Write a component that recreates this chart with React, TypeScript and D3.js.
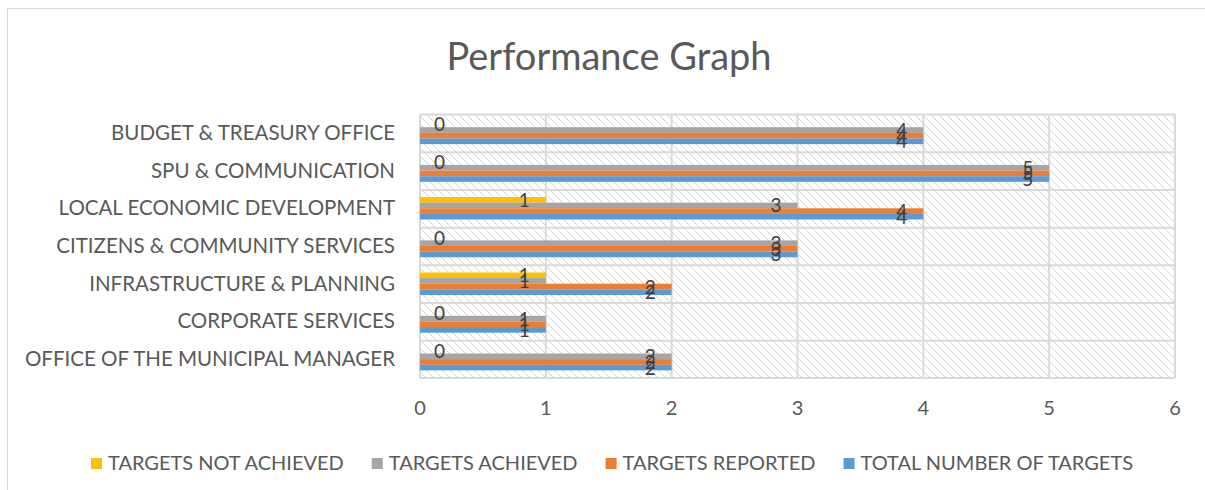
import React, { useEffect, useRef } from 'react'
import * as d3 from 'd3'

// chart data
const categories = [
  'BUDGET & TREASURY OFFICE',
  'SPU & COMMUNICATION',
  'LOCAL ECONOMIC DEVELOPMENT',
  'CITIZENS & COMMUNITY SERVICES',
  'INFRASTRUCTURE & PLANNING',
  'CORPORATE SERVICES',
  'OFFICE OF THE MUNICIPAL MANAGER',
]
const seriesNames = ['TARGETS NOT ACHIEVED', 'TARGETS ACHIEVED', 'TARGETS REPORTED', 'TOTAL NUMBER OF TARGETS']
const notAchieved = [0, 0, 1, 0, 1, 0, 0]
const achieved = [4, 5, 3, 3, 1, 1, 2]
const reported = [4, 5, 4, 3, 2, 1, 2]
const totalTargets = [4, 5, 4, 3, 2, 1, 2]
const xTicks = [0, 1, 2, 3, 4, 5, 6]
const colors = ['#FFC000', '#A5A5A5', '#ED7D31', '#5B9BD5']

const series = [notAchieved, achieved, reported, totalTargets]

const W = 1205
const H = 490
const FONT = 'Lato, "Open Sans", sans-serif'
const TEXT = '#595959'
const GRID = '#D9D9D9'

const plot = { left: 420, right: 1175, top: 114, bottom: 378 }

export default function App() {
  const legendRef = useRef<SVGGElement>(null)

  const x = d3.scaleLinear().domain([0, 6]).range([plot.left, plot.right])
  const y = d3.scaleBand<string>().domain(categories).range([plot.top, plot.bottom]).padding(0)
  const inner = d3
    .scaleBand<number>()
    .domain(d3.range(series.length))
    .range([0, y.bandwidth()])
    .paddingInner(0)
    .paddingOuter(1.35)

  useEffect(() => {
    const g = d3.select(legendRef.current)
    g.selectAll('*').remove()
    const items = g
      .selectAll('g.item')
      .data(seriesNames)
      .join('g')
      .attr('class', 'item')
    items
      .append('rect')
      .attr('width', 11)
      .attr('height', 11)
      .attr('y', -12)
      .attr('fill', (_, i) => colors[i])
    items
      .append('text')
      .attr('x', 17)
      .attr('font-family', FONT)
      .attr('font-size', 20)
      .attr('fill', TEXT)
      .text(d => d)
    let pos = 0
    items.each(function () {
      const t = (d3.select(this).select('text').node() as SVGTextElement).getComputedTextLength()
      d3.select(this).attr('transform', `translate(${pos},0)`)
      pos += 17 + t + 28
    })
    const totalW = pos - 28
    g.attr('transform', `translate(${612 - totalW / 2},470)`)
  }, [])

  return (
    <svg width={W} height={H} style={{ position: 'absolute', left: 0, top: 0 }}>
      <defs>
        <pattern id="hatch" width={8} height={8} patternUnits="userSpaceOnUse">
          <path d="M0,0 L8,8 M-2,6 L2,10 M6,-2 L10,2" stroke="#D4D4D4" strokeWidth={1} />
        </pattern>
      </defs>
      <rect x={0} y={0} width={W} height={H} fill="#fff" />
      <rect x={7.5} y={8.5} width={W + 10} height={H + 10} fill="#fff" stroke={GRID} />

      <text x={609} y={70} textAnchor="middle" fontFamily={FONT} fontSize={38} fill={TEXT}>
        Performance Graph
      </text>

      {/* plot area */}
      <rect
        x={plot.left}
        y={plot.top}
        width={plot.right - plot.left}
        height={plot.bottom - plot.top}
        fill="url(#hatch)"
      />
      <g>
        {categories.map(c => (
          <line
            key={c}
            x1={plot.left}
            x2={plot.right}
            y1={y(c)! + 0.5}
            y2={y(c)! + 0.5}
            stroke={GRID}
            strokeWidth={2}
          />
        ))}
        <line x1={plot.left} x2={plot.right} y1={plot.bottom} y2={plot.bottom} stroke={GRID} strokeWidth={2} />
        {xTicks.map(t => (
          <line key={t} x1={x(t)} x2={x(t)} y1={plot.top} y2={plot.bottom} stroke={GRID} strokeWidth={2} />
        ))}
      </g>

      {/* bars */}
      <g>
        {series.map((vals, si) =>
          vals.map((v, ci) =>
            v > 0 ? (
              <rect
                key={`${si}-${ci}`}
                x={x(0)}
                y={y(categories[ci])! + inner(si)!}
                width={x(v) - x(0)}
                height={inner.bandwidth()}
                fill={colors[si]}
              />
            ) : null
          )
        )}
      </g>

      {/* data labels */}
      <g fontFamily={FONT} fontSize={19} fill="#404040">
        {series.map((vals, si) =>
          vals.map((v, ci) => {
            const cy = y(categories[ci])! + inner(si)! + inner.bandwidth() / 2
            return (
              <text
                key={`l${si}-${ci}`}
                x={v > 0 ? x(v) - 16 : x(0) + 14}
                y={cy + 7}
                textAnchor={v > 0 ? 'end' : 'start'}
              >
                {v}
              </text>
            )
          })
        )}
      </g>

      {/* category axis */}
      <g fontFamily={FONT} fontSize={20.5} fill={TEXT}>
        {categories.map(c => (
          <text key={c} x={395} y={y(c)! + y.bandwidth() / 2 + 7} textAnchor="end">
            {c}
          </text>
        ))}
      </g>

      {/* value axis */}
      <g fontFamily={FONT} fontSize={20} fill={TEXT}>
        {xTicks.map(t => (
          <text key={t} x={x(t)} y={415} textAnchor="middle">
            {t}
          </text>
        ))}
      </g>

      <g ref={legendRef} />
    </svg>
  )
}
